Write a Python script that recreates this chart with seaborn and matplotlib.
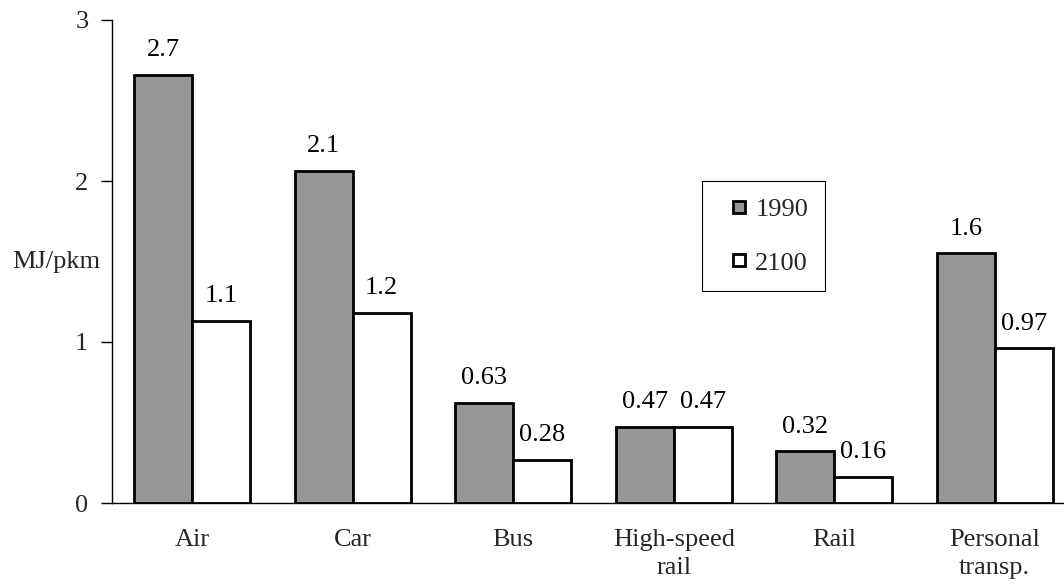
import numpy as np
import pandas as pd
import matplotlib
matplotlib.use("Agg")
import matplotlib.pyplot as plt
from matplotlib.lines import Line2D
import seaborn as sns

categories = ["Air", "Car", "Bus", "High-speed\nrail", "Rail", "Personal\ntransp."]
years = ["1990", "2100"]
values_1990 = [2.66, 2.06, 0.62, 0.47, 0.32, 1.55]
values_2100 = [1.13, 1.18, 0.27, 0.47, 0.16, 0.96]
labels_1990 = ["2.7", "2.1", "0.63", "0.47", "0.32", "1.6"]
labels_2100 = ["1.1", "1.2", "0.28", "0.47", "0.16", "0.97"]
yticks = [0, 1, 2, 3]
ylabel = "MJ/pkm"

df = pd.DataFrame({
    "mode": categories * 2,
    "year": [years[0]] * len(categories) + [years[1]] * len(categories),
    "value": values_1990 + values_2100,
})

FS = 19
sns.set_style("white")
plt.rcParams["font.family"] = ["Liberation Serif", "DejaVu Serif"]
plt.rcParams["font.size"] = FS

fig = plt.figure(figsize=(10.64, 5.84), dpi=100)
ax = fig.add_axes([112 / 1064, 81 / 584, 963 / 1064, 483 / 584])

palette = {"1990": "#969696", "2100": "#ffffff"}
sns.barplot(data=df, x="mode", y="value", hue="year", order=categories,
            hue_order=years, palette=palette, edgecolor="black", linewidth=2.0,
            width=0.72, saturation=1, legend=False, ax=ax)

for cont, labs in zip(ax.containers, [labels_1990, labels_2100]):
    ax.bar_label(cont, labels=labs, padding=10, fontsize=FS, color="black")

ax.set_xlim(-0.5, len(categories) - 0.5)
ax.set_ylim(0, 3)
ax.set_yticks(yticks)
ax.set_yticklabels([str(t) for t in yticks])
ax.set_xticks(range(len(categories)))
ax.set_xticklabels(categories, fontsize=FS, linespacing=1.35)
ax.set_xticks(np.arange(-0.5, len(categories), 1.0), minor=True)
ax.tick_params(axis="x", which="major", length=0, pad=19, labelsize=FS)
ax.tick_params(axis="x", which="minor", length=7, width=1, direction="out", color="black")
ax.tick_params(axis="y", which="major", length=8, width=1, direction="out", pad=9,
               labelsize=FS, color="black", left=True)
ax.set_xlabel("")
ax.set_ylabel(ylabel, rotation=0, ha="left", va="center", fontsize=FS)
ax.yaxis.set_label_coords(-100 / 963, 0.499)

for s in ["top", "right"]:
    ax.spines[s].set_visible(False)
for s in ["left", "bottom"]:
    ax.spines[s].set_color("black")
    ax.spines[s].set_linewidth(1.0)
ax.grid(False)

handles = [Line2D([], [], marker="s", markersize=9, markerfacecolor=palette[y],
                  markeredgecolor="black", markeredgewidth=2, linestyle="none")
           for y in years]
leg = ax.legend(handles, years, loc="upper left",
                bbox_to_anchor=(702 / 1064, 1 - 181 / 584),
                bbox_transform=fig.transFigure, borderaxespad=0,
                frameon=True, fancybox=False, framealpha=1, edgecolor="black",
                handlelength=1.6, handletextpad=-0.2, borderpad=0.62,
                labelspacing=1.15, fontsize=FS)
leg.get_frame().set_linewidth(0.8)

fig.savefig("out.png", dpi=100)
